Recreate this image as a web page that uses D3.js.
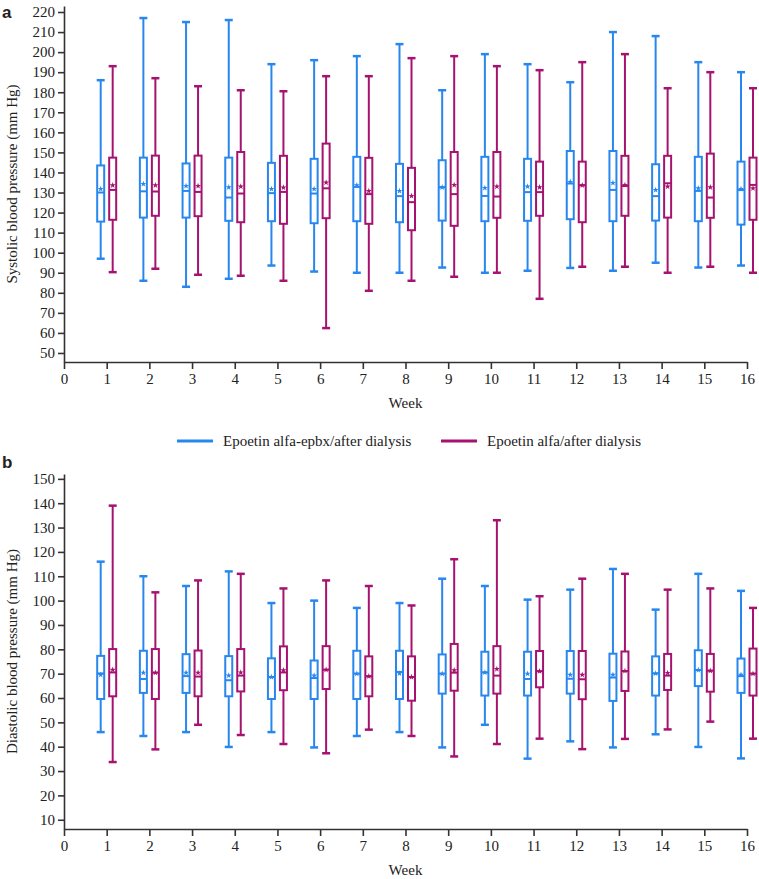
<!DOCTYPE html>
<html>
<head>
<meta charset="utf-8">
<script src="https://cdn.jsdelivr.net/npm/d3@7"></script>
<style>
  body { margin: 0; background: #fff; }
  svg text { fill: #222; }
</style>
</head>
<body>
<div id="canvas"></div>
<script>
// weeks on the x axis
const weeks = d3.range(1, 17)
const weekTicks = d3.range(0, 17)

// a: systolic, epoetin alfa-epbx
const sysEpbxMax = [186, 217, 215, 216, 194, 196, 198, 204, 181, 199, 194, 185, 210, 208, 195, 190]
const sysEpbxQ3 = [143.5, 147.4, 144.5, 147.4, 144.8, 146.8, 147.8, 144.3, 146.1, 147.8, 146.8, 150.7, 150.7, 144.1, 147.8, 145.4]
const sysEpbxMed = [130, 130.6, 130.8, 127.5, 129.7, 129.5, 132.8, 128.2, 132.6, 128.3, 130.2, 134.5, 131.3, 128.2, 130.8, 131.3]
const sysEpbxMean = [131.8, 134.3, 133.3, 132.6, 131.8, 131.8, 133.6, 130.8, 132.6, 132.3, 133, 135.3, 134.8, 131.3, 132.1, 131.8]
const sysEpbxQ1 = [115.5, 117.5, 117.5, 115.9, 115.7, 114.7, 115.7, 115.2, 116, 115.7, 115.9, 116.7, 115.7, 116, 115.7, 114]
const sysEpbxMin = [97, 86, 83, 87, 93.6, 90.6, 90, 90, 92.6, 90, 91, 92.4, 91, 95, 92.6, 93.6]

// a: systolic, epoetin alfa
const sysAlfaMax = [193, 187, 183, 181, 180.5, 188, 188, 197, 198, 193, 191, 195, 199, 182, 190, 182]
const sysAlfaQ3 = [147.4, 148.4, 148.4, 150.2, 148.3, 154.4, 147.3, 142.3, 150.2, 150.2, 145.4, 145.4, 148.3, 148.3, 149.4, 147.4]
const sysAlfaMed = [131.3, 130.5, 130.3, 129.5, 130.3, 132.1, 129.2, 125.2, 129.2, 128, 130.2, 133.6, 133.3, 134.6, 127.5, 133.8]
const sysAlfaMean = [133.6, 133.6, 133.3, 133, 132.5, 135, 130.7, 128.3, 133.8, 133, 132.6, 133.6, 133.8, 133, 132.6, 132.1]
const sysAlfaQ1 = [116.4, 118.4, 118.2, 115.2, 114.4, 117.2, 114.4, 111.2, 113.4, 117.4, 118.4, 115.2, 118.4, 117.5, 117.4, 116.4]
const sysAlfaMin = [90.3, 92, 89, 88.5, 86, 62.4, 81, 86, 88, 90, 77, 93, 93, 90, 93, 90]

// b: diastolic, epoetin alfa-epbx
const diaEpbxMax = [116, 110, 106, 112, 99, 100, 97, 99, 109, 106, 100.4, 104.5, 113, 96.3, 111, 104]
const diaEpbxQ3 = [77.3, 79.4, 78, 77.2, 76.3, 75.4, 79.4, 79.4, 77.9, 79, 79, 79.3, 78.2, 77.1, 79.6, 76.2]
const diaEpbxMed = [70.1, 67.8, 69, 67.3, 68.6, 68.2, 70, 70.7, 70, 70.5, 67.8, 67.9, 68.4, 70.1, 71.5, 69]
const diaEpbxMean = [69.5, 70.4, 70.4, 69.2, 68.6, 69.2, 70, 70.1, 70, 70.5, 70, 69.5, 69.5, 70.1, 71.5, 69.5]
const diaEpbxQ1 = [59.6, 62.1, 62.1, 60.7, 59.6, 59.6, 59.6, 59.6, 61.8, 61, 61, 61.8, 58.8, 61, 64.9, 62.1]
const diaEpbxMin = [46, 44.4, 46, 39.9, 46, 39.7, 44.4, 46, 39.7, 49, 35.1, 42.2, 39.7, 45.1, 39.9, 35.2]

// b: diastolic, epoetin alfa
const diaAlfaMax = [139, 103.4, 108.3, 111, 105, 108.3, 106, 98, 117, 133, 101.8, 109, 111, 104.5, 105, 97]
const diaAlfaQ3 = [80.1, 80.1, 79.5, 80.1, 81.2, 81.3, 77.1, 77.1, 82.2, 81.3, 79.3, 79.3, 79.1, 78.1, 78.1, 80.3]
const diaAlfaMed = [70.5, 70.4, 68.8, 69.2, 70.5, 71.6, 68.9, 68.6, 70.4, 69.2, 71, 67.7, 71.1, 69.2, 71.2, 70]
const diaAlfaMean = [71.6, 70.4, 70.4, 70.5, 71.4, 71.6, 68.9, 68.6, 71.4, 71.9, 71, 69.5, 71.1, 70.3, 71.2, 70]
const diaAlfaQ1 = [60.7, 59.6, 60.7, 62.7, 63.2, 63.7, 60.7, 58.9, 63, 61.8, 64.4, 59.5, 62.9, 63.3, 62.6, 61]
const diaAlfaMin = [33.7, 38.9, 49, 44.8, 41.1, 37.3, 47, 44.4, 36, 41.1, 43.3, 39, 43.2, 47.1, 50.3, 43.3]

const seriesNames = ['Epoetin alfa-epbx/after dialysis', 'Epoetin alfa/after dialysis']
const colors = ['#2787ee', '#a5126f']
const serif = 'Liberation Serif, Tinos, Nimbus Roman, FreeSerif, Noto Serif, DejaVu Serif, serif'

const W = 759, H = 879
const svg = d3.select('#canvas').append('svg').attr('width', W).attr('height', H)
  .style('font-family', serif)

const x = d3.scaleLinear().domain([0, 16]).range([64, 747])

function toBoxes(mx, q3, med, mean, q1, mn) {
  return weeks.map(function (w, i) {
    return { week: w, max: mx[i], q3: q3[i], med: med[i], mean: mean[i], q1: q1[i], min: mn[i] }
  })
}

function styleAxis(a) {
  a.attr('font-family', null)
  a.select('.domain').attr('stroke', '#333').attr('stroke-width', 1.6)
  a.selectAll('.tick line').attr('stroke', '#333').attr('stroke-width', 1.6)
  a.selectAll('text').style('font-family', serif).style('font-size', '15px').attr('fill', '#222')
}

function drawPanel(opt) {
  const y = d3.scaleLinear().domain(opt.domain).range([opt.bottom, opt.top])
  const g = svg.append('g')

  // y axis
  g.append('g')
    .attr('transform', 'translate(' + x(0) + ',0)')
    .call(d3.axisLeft(y).tickValues(opt.ticks).tickSize(6).tickSizeOuter(0).tickPadding(3))
    .call(styleAxis)

  // x axis
  g.append('g')
    .attr('transform', 'translate(0,' + opt.bottom + ')')
    .call(d3.axisBottom(x).tickValues(weekTicks).tickFormat(d3.format('d')).tickSize(7).tickSizeOuter(0).tickPadding(4))
    .call(styleAxis)

  g.append('text')
    .attr('x', (x(0) + x(16)) / 2)
    .attr('y', opt.bottom + 46)
    .attr('text-anchor', 'middle')
    .style('font-size', '15px')
    .text('Week')

  g.append('text')
    .attr('transform', 'translate(17,' + (opt.top + opt.bottom) / 2 + ')rotate(-90)')
    .attr('text-anchor', 'middle')
    .style('font-size', '15px')
    .text(opt.title)

  g.append('text')
    .attr('x', 2)
    .attr('y', opt.labelY)
    .style('font-family', 'Liberation Sans, Arial, sans-serif')
    .style('font-weight', 'bold')
    .style('font-size', '17px')
    .text(opt.label)

  const bw = 7, cap = 8
  opt.series.forEach(function (s, si) {
    const off = si === 0 ? -6 : 6
    const col = colors[si]
    const sg = g.append('g').attr('stroke', col).attr('stroke-width', 2).attr('fill', 'none')
    const grp = sg.selectAll('g').data(s).enter().append('g')
      .attr('transform', function (d) { return 'translate(' + (x(d.week) + off) + ',0)' })

    grp.append('line') // upper whisker
      .attr('y1', function (d) { return y(d.max) }).attr('y2', function (d) { return y(d.q3) })
    grp.append('line')
      .attr('y1', function (d) { return y(d.q1) }).attr('y2', function (d) { return y(d.min) })
    grp.append('line')
      .attr('x1', -cap / 2).attr('x2', cap / 2)
      .attr('y1', function (d) { return y(d.max) }).attr('y2', function (d) { return y(d.max) })
      .attr('stroke-width', 2.5)
    grp.append('line')
      .attr('x1', -cap / 2).attr('x2', cap / 2)
      .attr('y1', function (d) { return y(d.min) }).attr('y2', function (d) { return y(d.min) })
      .attr('stroke-width', 2.5)
    grp.append('rect')
      .attr('x', -bw / 2).attr('width', bw)
      .attr('y', function (d) { return y(d.q3) })
      .attr('height', function (d) { return y(d.q1) - y(d.q3) })
      .attr('fill', '#fff')
    grp.append('line')
      .attr('x1', -bw / 2).attr('x2', bw / 2)
      .attr('y1', function (d) { return y(d.med) }).attr('y2', function (d) { return y(d.med) })
    grp.append('path')
      .attr('d', d3.symbol().type(d3.symbolStar).size(12))
      .attr('transform', function (d) { return 'translate(0,' + y(d.mean) + ')' })
      .attr('fill', col).attr('stroke', 'none')
  })
}

drawPanel({
  label: 'a', labelY: 18,
  title: 'Systolic blood pressure (mm Hg)',
  domain: [45.5, 223], top: 6, bottom: 362,
  ticks: d3.range(50, 221, 10),
  series: [
    toBoxes(sysEpbxMax, sysEpbxQ3, sysEpbxMed, sysEpbxMean, sysEpbxQ1, sysEpbxMin),
    toBoxes(sysAlfaMax, sysAlfaQ3, sysAlfaMed, sysAlfaMean, sysAlfaQ1, sysAlfaMin)
  ]
})

drawPanel({
  label: 'b', labelY: 468,
  title: 'Diastolic blood pressure (mm Hg)',
  domain: [6.2, 152], top: 474, bottom: 829,
  ticks: d3.range(10, 151, 10),
  series: [
    toBoxes(diaEpbxMax, diaEpbxQ3, diaEpbxMed, diaEpbxMean, diaEpbxQ1, diaEpbxMin),
    toBoxes(diaAlfaMax, diaAlfaQ3, diaAlfaMed, diaAlfaMean, diaAlfaQ1, diaAlfaMin)
  ]
})

// legend
const legend = svg.append('g').attr('transform', 'translate(0,441)')
const legX = [177, 441]
seriesNames.forEach(function (n, i) {
  legend.append('line')
    .attr('x1', legX[i]).attr('x2', legX[i] + 36)
    .attr('stroke', colors[i]).attr('stroke-width', 3)
  legend.append('text')
    .attr('x', legX[i] + 46).attr('y', 5)
    .style('font-size', '15px')
    .text(n)
})
</script>
</body>
</html>
